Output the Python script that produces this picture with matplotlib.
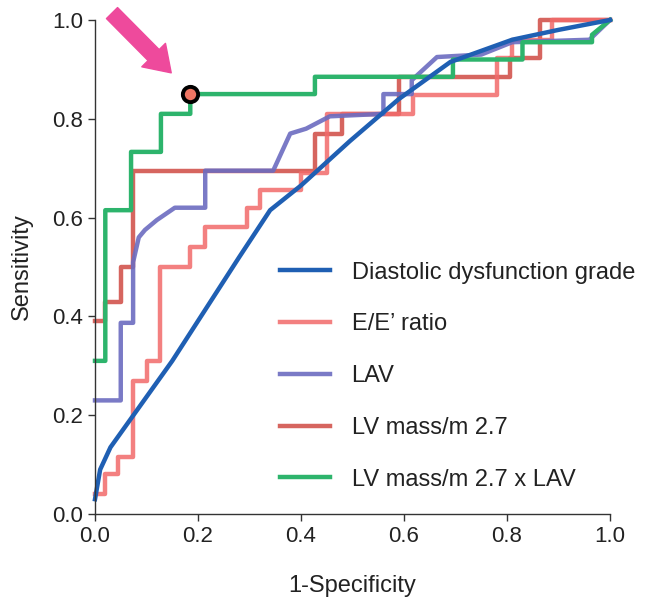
import matplotlib
matplotlib.use("Agg")
import matplotlib.pyplot as plt

plt.rcParams['font.family'] = ['Liberation Sans', 'DejaVu Sans']

# ROC curves: (1-specificity, sensitivity)
dd_fpr = [0, 0.01, 0.03, 0.15, 0.28, 0.34, 0.40, 0.495, 0.59, 0.69, 0.81, 0.90, 1.0]
dd_tpr = [0.03, 0.09, 0.135, 0.31, 0.52, 0.615, 0.665, 0.755, 0.84, 0.915, 0.96, 0.98, 1.0]

ee_fpr = [0, 0.02, 0.02, 0.045, 0.045, 0.073, 0.073, 0.10, 0.10, 0.126, 0.126, 0.185, 0.185,
          0.214, 0.214, 0.295, 0.295, 0.32, 0.32, 0.40, 0.40, 0.45, 0.45, 0.617, 0.617,
          0.78, 0.78, 0.81, 0.81, 0.887, 0.887, 1.0]
ee_tpr = [0.04, 0.04, 0.08, 0.08, 0.115, 0.115, 0.27, 0.27, 0.31, 0.31, 0.50, 0.50, 0.54,
          0.54, 0.58, 0.58, 0.62, 0.62, 0.655, 0.655, 0.69, 0.69, 0.81, 0.81, 0.848,
          0.848, 0.923, 0.923, 0.96, 0.96, 1.0, 1.0]

lav_fpr = [0, 0.05, 0.05, 0.074, 0.074, 0.085, 0.097, 0.12, 0.155, 0.214, 0.214, 0.346, 0.379,
           0.41, 0.456, 0.56, 0.56, 0.615, 0.615, 0.664, 0.75, 0.81, 0.96, 1.0]
lav_tpr = [0.23, 0.23, 0.387, 0.387, 0.51, 0.56, 0.575, 0.595, 0.62, 0.62, 0.695, 0.695, 0.77,
           0.78, 0.805, 0.81, 0.85, 0.85, 0.878, 0.925, 0.93, 0.955, 0.96, 1.0]

lvm_fpr = [0, 0.02, 0.02, 0.05, 0.05, 0.073, 0.073, 0.427, 0.427, 0.48, 0.48, 0.59, 0.59,
           0.806, 0.806, 0.864, 0.864, 1.0]
lvm_tpr = [0.39, 0.39, 0.43, 0.43, 0.50, 0.50, 0.695, 0.695, 0.77, 0.77, 0.81, 0.81, 0.885,
           0.885, 0.923, 0.923, 1.0, 1.0]

cmb_fpr = [0, 0.02, 0.02, 0.07, 0.07, 0.128, 0.128, 0.185, 0.185, 0.427, 0.427, 0.695, 0.695,
           0.83, 0.83, 0.965, 0.965, 1.0]
cmb_tpr = [0.31, 0.31, 0.615, 0.615, 0.733, 0.733, 0.81, 0.81, 0.85, 0.85, 0.885, 0.885, 0.92,
           0.92, 0.955, 0.955, 0.97, 1.0]

best_point = (0.185, 0.85)

labels = ['Diastolic dysfunction grade', 'E/E\u2019 ratio', 'LAV', 'LV mass/m 2.7', 'LV mass/m 2.7 x LAV']
colors = ['#1f5fb3', '#f26a6a', '#6c6cc0', '#d2544e', '#2db46c']
ticks = [0.0, 0.2, 0.4, 0.6, 0.8, 1.0]

fig = plt.figure(figsize=(6.57, 6.0), dpi=100)
ax = fig.add_axes([0.1446, 0.1433, 0.7839, 0.8234])

lw = 3.2
h_lvm, = ax.plot(lvm_fpr, lvm_tpr, color=colors[3], lw=lw, alpha=0.9, clip_on=False)
h_ee, = ax.plot(ee_fpr, ee_tpr, color=colors[1], lw=lw, alpha=0.85, clip_on=False)
h_lav, = ax.plot(lav_fpr, lav_tpr, color=colors[2], lw=lw, alpha=0.9, clip_on=False)
h_cmb, = ax.plot(cmb_fpr, cmb_tpr, color=colors[4], lw=lw, clip_on=False)
h_dd, = ax.plot(dd_fpr, dd_tpr, color=colors[0], lw=lw, clip_on=False)

ax.plot([best_point[0]], [best_point[1]], 'o', ms=11, mfc='#ef7563', mec='black', mew=2.8,
        clip_on=False, zorder=5)

# pink arrow pointing at the best cut-off
ax.annotate('', xy=(0.148, 0.893), xytext=(0.033, 1.014), annotation_clip=False,
            arrowprops=dict(arrowstyle='simple,head_width=1.6,head_length=1.2,tail_width=0.75',
                            color='#ee4a9c', mutation_scale=15, shrinkA=0, shrinkB=0))

ax.set_xlim(0, 1)
ax.set_ylim(0, 1)
ax.set_xticks(ticks)
ax.set_yticks(ticks)
ax.set_xticklabels(['%.1f' % t for t in ticks])
ax.set_yticklabels(['%.1f' % t for t in ticks])
ax.tick_params(direction='out', length=5, width=1, labelsize=16, color='#333333',
               labelcolor='#222222')
for s in ['top', 'right']:
    ax.spines[s].set_visible(False)
for s in ['left', 'bottom']:
    ax.spines[s].set_color('#333333')
    ax.spines[s].set_linewidth(1)

ax.set_xlabel('1-Specificity', fontsize=17, labelpad=20, color='#222222')
ax.set_ylabel('Sensitivity', fontsize=17, labelpad=14, color='#222222')

ax.legend([h_dd, h_ee, h_lav, h_lvm, h_cmb], labels, frameon=False, fontsize=17,
          loc='upper left', bbox_to_anchor=(0.341, 0.53), handlelength=2.1,
          handletextpad=0.93, labelspacing=1.26, borderaxespad=0, labelcolor='#222222')

fig.savefig('out.png', dpi=100)
